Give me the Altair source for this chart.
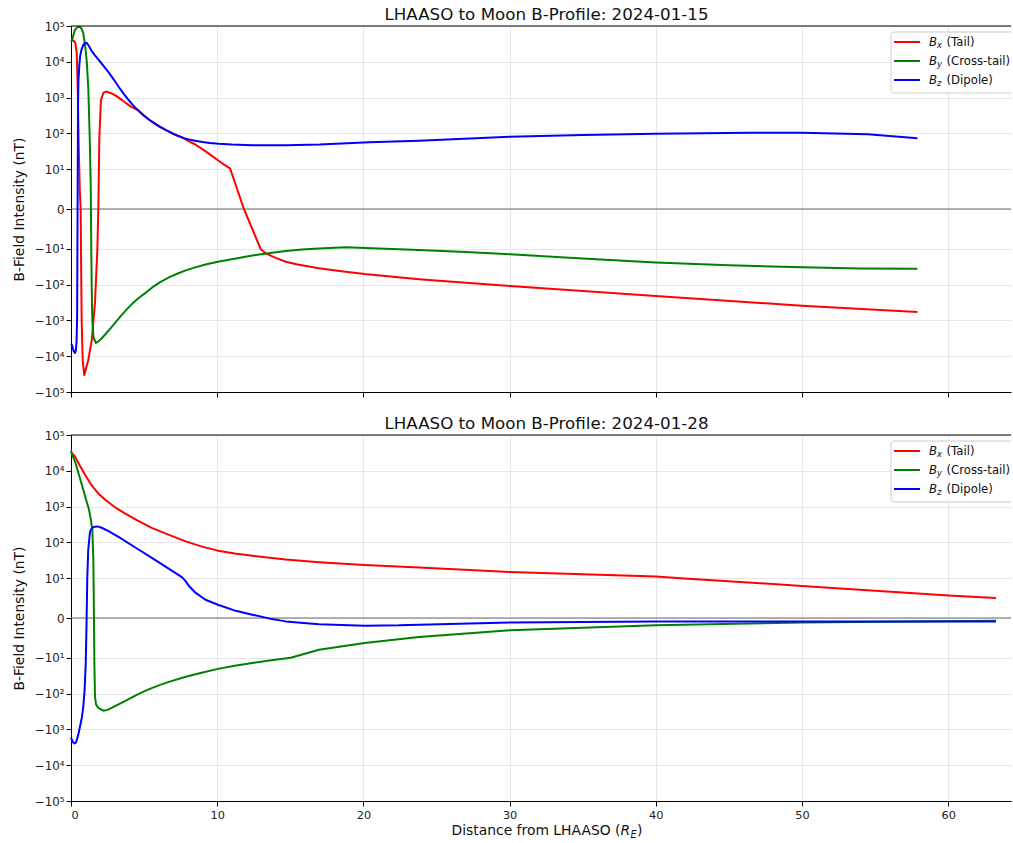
import altair as alt
import pandas as pd

# ---------------- data (values in nT, x in Earth radii) ----------------
TITLES = ["LHAASO to Moon B-Profile: 2024-01-15", "LHAASO to Moon B-Profile: 2024-01-28"]
COMPONENTS = ["Bx", "By", "Bz"]
COLORS = ["#ff0000", "#008000", "#0000ff"]
LEG_SUB = ["x", "y", "z"]
LEG_TEXT = ["(Tail)", "(Cross-tail)", "(Dipole)"]
X_TICKS = [0, 10, 20, 30, 40, 50, 60]

# Panel 1: 2024-01-15
X1_BX = [0.0, 0.2, 0.3, 0.39, 0.46, 0.52, 0.6, 0.66, 0.70, 0.73, 0.80, 0.91, 1.05, 1.18, 1.42, 1.64, 1.80,
         1.87, 1.94, 2.05, 2.21, 2.39, 2.7, 3.01, 3.28, 3.69, 4.1, 4.65, 5.0, 5.34, 5.7, 6.02, 6.36, 6.7,
         7.04, 7.39, 7.73, 8.07, 8.5, 8.96, 9.5, 10.12, 10.5, 10.88, 11.83, 12.98, 13.32, 14.0, 14.69, 15.5,
         16.96, 18.5, 20.09, 23.8, 30.03, 40.0, 50.0, 57.9]
V1_BX = [39000, 38500, 33000, 17800, 2000, 60, 5, 0, -60, -1000, -13000, -34000, -20000, -13000, -3600, -330, -11,
         0, 81, 850, 1350, 1480, 1350, 1170, 980, 740, 560, 430, 315, 245, 195, 160, 134, 113,
         96, 84, 72, 60, 49, 37, 26, 17, 13.2, 10.6, 0, -10.3, -13.4, -18, -23, -27.5,
         -35, -42.7, -51, -71, -110, -209, -390, -583]

X1_BY = [0.0, 0.07, 0.27, 0.45, 0.6, 0.72, 0.84, 0.96, 1.07, 1.18, 1.28, 1.35, 1.39, 1.42, 1.46, 1.54, 1.71,
         1.9, 2.1, 2.37, 2.7, 3.06, 3.4, 3.8, 4.2, 4.65, 5.1, 5.56, 6.1, 6.7, 7.3, 7.85, 8.5, 9.2, 10.05,
         11.0, 12.4, 13.5, 14.69, 15.8, 16.96, 18.79, 21.52, 23.8, 27.0, 30.03, 35.0, 40.0, 45.0, 50.0,
         54.0, 57.9]
V1_BY = [38000, 41000, 78000, 93000, 95000, 85000, 63000, 30000, 11000, 2000, 81, 5.6, -13, -150, -1000, -3000, -4270,
         -3800, -3160, -2400, -1660, -1120, -760, -500, -340, -234, -170, -120, -85, -63, -49, -40, -33, -27.5, -23,
         -19.5, -15.5, -13.3, -11.5, -10.5, -9.9, -9.6, -10, -10.8, -12.3, -14.3, -18.6, -24, -28.8, -33,
         -35.5, -36]

X1_BZ = [0.0, 0.07, 0.17, 0.27, 0.33, 0.38, 0.42, 0.45, 0.48, 0.51, 0.57, 0.62, 0.72, 0.84, 0.95, 1.07, 1.2,
         1.37, 1.6, 1.92, 2.25, 2.6, 2.95, 3.28, 3.6, 3.97, 4.3, 4.65, 5.0, 5.34, 5.7, 6.02, 6.36, 6.7,
         7.04, 7.39, 7.73, 8.07, 8.5, 9.0, 9.5, 10.1, 11.0, 12.4, 14.7, 17.0, 20.4, 23.8, 30.0, 35.0,
         40.0, 46.5, 50.0, 54.5, 57.9]
V1_BZ = [-4500, -4900, -7000, -8100, -7000, -4000, -800, 0, 600, 3000, 8000, 13800, 22000, 29500, 33000, 33900, 28800,
         21400, 15800, 11000, 7400, 4900, 3090, 1950, 1290, 830, 575, 417, 309, 240, 190, 158, 132, 112,
         95, 83, 74, 68, 62, 57.5, 53.7, 51.3, 49, 47, 47, 49, 56.5, 62.6, 81, 90,
         98, 105, 105, 95, 73]

# Panel 2: 2024-01-28
X2_BX = [0.0, 0.27, 0.6, 0.96, 1.4, 1.87, 2.4, 3.01, 3.69, 4.5, 5.56, 6.7, 7.85, 8.9, 10.05, 11.2, 12.4,
         14.69, 16.96, 20.09, 23.8, 30.03, 35.0, 40.0, 41.69, 50.0, 60.03, 63.27]
V2_BX = [32400, 25100, 14100, 7760, 3980, 2340, 1480, 955, 646, 417, 251, 162, 107, 77.6, 58.9, 49, 42.3,
         33.1, 27.9, 23.4, 20, 14.8, 12.9, 11.2, 10.0, 8.07, 5.68, 5.0]

X2_BY = [0.0, 0.15, 0.32, 0.55, 0.77, 1.0, 1.23, 1.35, 1.46, 1.53, 1.57, 1.60, 1.64, 1.71, 1.87, 2.21, 2.5,
         3.01, 3.69, 4.5, 5.0, 5.56, 6.1, 6.7, 7.85, 9.0, 10.05, 11.2, 12.4, 13.7, 15.03, 16.96, 20.09, 23.8,
         30.03, 40.0, 50.0, 63.27]
V2_BY = [36000, 24000, 16000, 7600, 3700, 1750, 830, 450, 226, 30, 0, -15, -119, -200, -250, -300, -285,
         -225, -163, -108, -87, -69, -57, -47, -34, -25.7, -20.4, -16.6, -13.9, -11.7, -10, -7.96, -6.3, -4.8,
         -3.1, -1.85, -1.1, -0.68]

X2_BZ = [0.0, 0.05, 0.14, 0.23, 0.35, 0.5, 0.62, 0.75, 0.84, 0.93, 1.01, 1.07, 1.11, 1.18, 1.30, 1.45, 1.64,
         1.80, 2.10, 2.6, 3.01, 3.28, 4.4, 5.56, 6.6, 7.61, 7.85, 8.1, 8.53, 9.2, 10.05, 11.27, 12.4, 13.54,
         14.69, 16.96, 20.09, 22.43, 23.8, 30.03, 40.0, 50.0, 63.27]
V2_BZ = [-1700, -1900, -2300, -2470, -2300, -1400, -815, -450, -235, -80, -13.6, 0, 9.6, 62, 200, 255, 275,
         280, 257, 204, 162, 140, 72, 36.5, 19.4, 10.5, 9.2, 7.9, 6.3, 4.6, 3.34, 1.8, 0.83, -0.1,
         -0.85, -1.6, -1.93, -1.85, -1.68, -1.1, -0.85, -0.85, -0.85]

SERIES = {
    (0, "Bx"): (X1_BX, V1_BX), (0, "By"): (X1_BY, V1_BY), (0, "Bz"): (X1_BZ, V1_BZ),
    (1, "Bx"): (X2_BX, V2_BX), (1, "By"): (X2_BY, V2_BY), (1, "Bz"): (X2_BZ, V2_BZ),
}
rows = []
for (p, c), (xs, vs) in SERIES.items():
    for x, v in zip(xs, vs):
        rows.append({"panel": p, "comp": c, "x": x, "v": v})
df = pd.DataFrame(rows)

# ---------------- matplotlib-style symlog (linthresh=10, linscale=1) ----------------
LS = 1.0 / (1.0 - 1.0 / 10.0)
YMAX = LS + 4
Y_TICKS = [-(LS + k) for k in (4, 3, 2, 1, 0)] + [0] + [LS + k for k in (0, 1, 2, 3, 4)]
EXPR = (f"abs(datum.v) <= 10 ? datum.v / 10 * {LS} : "
        f"(datum.v > 0 ? 1 : -1) * ({LS} + log(abs(datum.v) / 10) / LN10)")
LABEL_EXPR = ("datum.value == 0 ? '0' : (datum.value < 0 ? '\u2212' : '') + '10' + "
              "substring('\u2070\u00b9\u00b2\u00b3\u2074\u2075', round(abs(datum.value) - 0.1111), "
              "round(abs(datum.value) - 0.1111) + 1)")

FONT = "DejaVu Sans"
W, H = 940, 366
XMAX = 64.3
ONE = pd.DataFrame({"k": [0]})


def panel(i, bottom):
    xs = alt.Scale(domain=[0, XMAX], nice=False, zero=False)
    ys = alt.Scale(domain=[-YMAX, YMAX], nice=False, zero=False)
    xaxis = alt.Axis(values=X_TICKS, labels=bottom, title=None, grid=True, labelFontSize=11.3,
                     labelFont=FONT, labelColor="#222222", labelPadding=3)
    yaxis = alt.Axis(values=Y_TICKS, labelExpr=LABEL_EXPR, title="B-Field Intensity (nT)", grid=True,
                     labelFontSize=11.8, labelFont=FONT, labelColor="#222222", labelPadding=2,
                     titleFont=FONT, titleFontSize=13.9, titleFontWeight="normal", titleColor="#111111",
                     titlePadding=8)
    layers = []
    sub = df[df.panel == i]
    for comp, color in zip(COMPONENTS, COLORS):
        layers.append(
            alt.Chart(sub).transform_filter(alt.datum.comp == comp)
            .transform_calculate(ty=EXPR)
            .mark_line(color=color, strokeWidth=2, strokeJoin="round")
            .encode(x=alt.X("x:Q", scale=xs, axis=xaxis),
                    y=alt.Y("ty:Q", scale=ys, axis=yaxis),
                    order="x:Q")
        )
    # zero reference line
    layers.insert(0, alt.Chart(ONE).mark_rule(color="#6b6b6b", strokeWidth=1.1)
                  .encode(y=alt.Y("k:Q", scale=ys, axis=yaxis)))
    # top spine
    layers.append(alt.Chart(ONE).mark_rule(color="black", strokeWidth=1).encode(y=alt.value(0)))
    # legend box
    layers.append(alt.Chart(ONE).mark_rect(fill="white", fillOpacity=0.85, stroke="#cccccc", strokeWidth=1,
                                           cornerRadius=3, clip=True)
                  .encode(x=alt.value(820), x2=alt.value(960), y=alt.value(6), y2=alt.value(67)))
    for r, (color, sb, txt) in enumerate(zip(COLORS, LEG_SUB, LEG_TEXT)):
        yy = 16 + 19 * r
        layers.append(alt.Chart(ONE).mark_rule(color=color, strokeWidth=2)
                      .encode(x=alt.value(823), x2=alt.value(849), y=alt.value(yy)))
        layers.append(alt.Chart(ONE).mark_text(text="B", font=FONT, fontStyle="italic", fontSize=11.7,
                                               align="left", baseline="middle", color="#111111")
                      .encode(x=alt.value(858), y=alt.value(yy)))
        layers.append(alt.Chart(ONE).mark_text(text=sb, font=FONT, fontStyle="italic", fontSize=8.3,
                                               align="left", baseline="middle", color="#111111")
                      .encode(x=alt.value(866), y=alt.value(yy + 3.5)))
        layers.append(alt.Chart(ONE).mark_text(text=txt, font=FONT, fontSize=11.7,
                                               align="left", baseline="middle", color="#111111")
                      .encode(x=alt.value(875.5), y=alt.value(yy)))
    if bottom:
        ty = H + 30
        layers.append(alt.Chart(ONE).mark_text(text="Distance from LHAASO (", font=FONT, fontSize=13.9,
                                               align="right", baseline="middle", color="#111111")
                      .encode(x=alt.value(549.5), y=alt.value(ty)))
        layers.append(alt.Chart(ONE).mark_text(text="R", font=FONT, fontStyle="italic", fontSize=13.9,
                                               align="left", baseline="middle", color="#111111")
                      .encode(x=alt.value(549.5), y=alt.value(ty)))
        layers.append(alt.Chart(ONE).mark_text(text="E", font=FONT, fontStyle="italic", fontSize=9.7,
                                               align="left", baseline="middle", color="#111111")
                      .encode(x=alt.value(559.5), y=alt.value(ty + 4)))
        layers.append(alt.Chart(ONE).mark_text(text=")", font=FONT, fontSize=13.9,
                                               align="left", baseline="middle", color="#111111")
                      .encode(x=alt.value(566), y=alt.value(ty)))
    return alt.layer(*layers).properties(
        width=W, height=H,
        title=alt.TitleParams(TITLES[i], font=FONT, fontSize=16.7, fontWeight="normal", color="#111111",
                              anchor="middle", offset=-3, dx=5.5),
    )


chart = (
    alt.vconcat(panel(0, False), panel(1, True), spacing=17)
    .properties(padding={"left": 12, "top": 7, "right": 0, "bottom": 2})
    .configure_view(stroke=None)
    .configure_axis(domainColor="black", domainWidth=1, tickColor="black", tickSize=5, tickWidth=1,
                    gridColor="#e6e6e6", gridWidth=1)
)

chart.save("out.html", embed_options={"renderer": "svg", "actions": False})
